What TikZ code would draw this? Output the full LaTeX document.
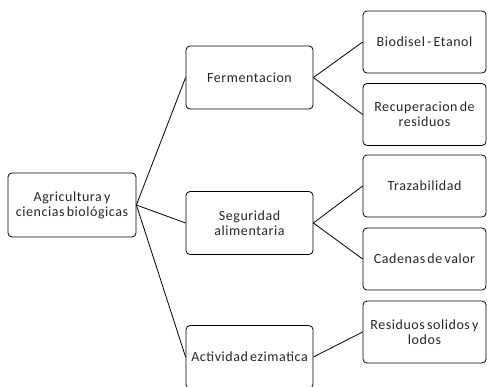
\documentclass[tikz,border=0pt]{standalone}
\usepackage{fontspec}
\setmainfont[LetterSpace=4,WordSpace=0.6]{Carlito}
\usepackage{tikz}
\tikzset{
    caja/.style={draw, rounded corners=4bp, line width=0.8bp, align=center,
        inner sep=0pt, font=\fontsize{14bp}{15bp}\selectfont, text=black!85},
    raiz/.style={caja, minimum width=128bp, minimum height=64bp},
    rama/.style={caja, minimum width=127bp, minimum height=63bp},
    hoja/.style={caja, minimum width=123bp, minimum height=62bp},
    enlace/.style={line width=0.8bp},
}

\begin{document}
\begin{tikzpicture}[x=1bp, y=1bp]
    \useasboundingbox (0,0) rectangle (487,386);
    \clip (0,0) rectangle (487,386);
    \node[raiz] (agri) at (72,181) {Agricultura y\\ciencias biológicas};
    \node[rama] (ferm) at (249.5,308.5) {Fermentacion};
    \node[rama] (segu) at (249.5,163) {Seguridad\\alimentaria};
    \node[rama] (acti) at (249.5,29) {Actividad ezimatica};
    \node[hoja] (biod) at (424.5,344) {Biodisel - Etanol};
    \node[hoja] (recu) at (424.5,271.5) {Recuperacion de\\residuos};
    \node[hoja] (traz) at (424.5,200) {Trazabilidad};
    \node[hoja] (cade) at (424.5,127) {Cadenas de valor};
    \node[hoja] (resi) at (424.5,54) {Residuos solidos y\\lodos};
    \draw[enlace] (agri.east) -- (ferm.west);
    \draw[enlace] (agri.east) -- (segu.west);
    \draw[enlace] (agri.east) -- (acti.west);
    \draw[enlace] (ferm.east) -- (biod.west);
    \draw[enlace] (ferm.east) -- (recu.west);
    \draw[enlace] (segu.east) -- (traz.west);
    \draw[enlace] (segu.east) -- (cade.west);
    \draw[enlace] (acti.east) -- (resi.west);
\end{tikzpicture}
\end{document}
